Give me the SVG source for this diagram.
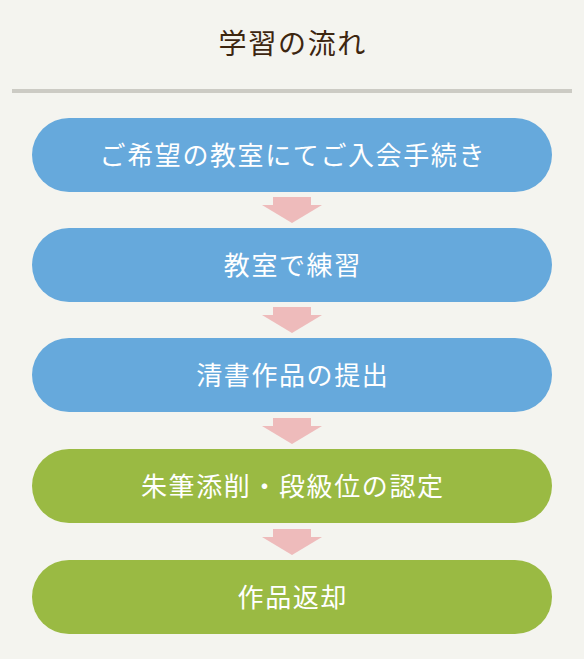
<svg xmlns="http://www.w3.org/2000/svg" width="584" height="659" viewBox="0 0 584 659">
<style>
.t{font-family:"Noto Sans CJK JP","Noto Sans",sans-serif;text-anchor:middle}
.lbl{fill:#ffffff;font-size:26px;letter-spacing:1.6px}
.blue{fill:#66a9dc}
.green{fill:#9aba43}
.arr{fill:#eebbbb}
</style>
<defs>
<path id="arrow" d="M-19,0 H19 V8 H30 L0,26 L-30,8 H-19 Z"/>
</defs>
<rect width="584" height="659" fill="#f4f4ef"/>
<g id="title">
<text class="t" x="292.8" y="54" font-size="28" letter-spacing="1.7" fill="#3d2610">学習の流れ</text>
<rect x="12" y="89" width="560" height="4" fill="#cccbc4"/>
</g>
<g id="connectors">
<use href="#arrow" class="arr" x="292" y="197"/>
<use href="#arrow" class="arr" x="292" y="307"/>
<use href="#arrow" class="arr" x="292" y="418"/>
<use href="#arrow" class="arr" x="292" y="529"/>
</g>
<g id="n1">
<rect class="blue" x="32" y="118" width="520" height="74" rx="37"/>
<text class="t lbl" x="292.8" y="165">ご希望の教室にてご入会手続き</text>
</g>
<g id="n2">
<rect class="blue" x="32" y="228" width="520" height="74" rx="37"/>
<text class="t lbl" x="292.8" y="275">教室で練習</text>
</g>
<g id="n3">
<rect class="blue" x="32" y="338" width="520" height="74" rx="37"/>
<text class="t lbl" x="292.8" y="385">清書作品の提出</text>
</g>
<g id="n4">
<rect class="green" x="32" y="449" width="520" height="74" rx="37"/>
<text class="t lbl" x="292.8" y="496">朱筆添削・段級位の認定</text>
</g>
<g id="n5">
<rect class="green" x="32" y="560" width="520" height="74" rx="37"/>
<text class="t lbl" x="292.8" y="607">作品返却</text>
</g>
</svg>
